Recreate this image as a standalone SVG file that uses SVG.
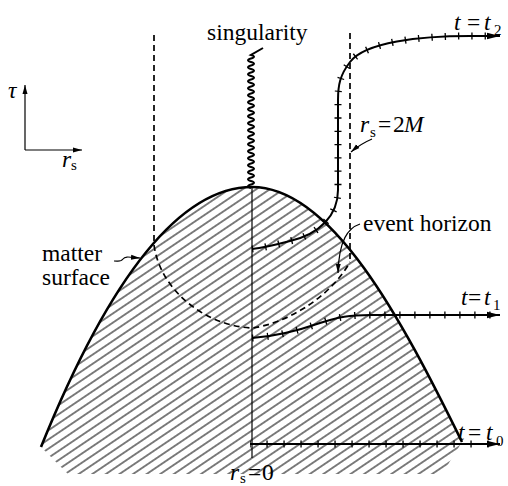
<svg xmlns="http://www.w3.org/2000/svg" width="508" height="486" viewBox="0 0 508 486">
<defs>
<style>
.lbl{font-family:"Liberation Serif","Times New Roman",serif;font-size:23.5px;fill:#000}
.it{font-style:italic}
.sub{font-size:15px;font-style:normal}
.thick{fill:none;stroke:#000;stroke-width:2.6;stroke-linejoin:round}
.curve{fill:none;stroke:#000;stroke-width:2}
.tk{fill:none;stroke:#000;stroke-width:7}
.dash{fill:none;stroke:#000;stroke-width:1.7;stroke-dasharray:6 4}
.thin{fill:none;stroke:#000;stroke-width:1.2}
</style>
<marker id="arr" markerUnits="userSpaceOnUse" markerWidth="14" markerHeight="8" refX="13" refY="4" orient="auto"><path d="M0,0.8 L13,4 L0,7.2 Z" fill="#000"/></marker>
<marker id="sarr" markerUnits="userSpaceOnUse" markerWidth="10" markerHeight="6" refX="9" refY="3" orient="auto"><path d="M0,0.5 L9,3 L0,5.5 Z" fill="#000"/></marker>
<pattern id="hatch" patternUnits="userSpaceOnUse" width="20" height="7.6" patternTransform="rotate(-34)"><line x1="-1" y1="3.8" x2="21" y2="3.8" stroke="#000" stroke-width="1"/></pattern>
</defs>
<rect width="508" height="486" fill="#fff"/>

<g id="matter">
<path d="M41,447 Q146,187 252,187 C332,187 402,320 462,442 L442,474 L68,474 Z" fill="url(#hatch)"/>
<path class="thick" d="M41,447 Q146,187 252,187 C332,187 402,320 462,442"/>
<path class="thin" d="M252,187 V458"/>
</g>

<g id="singularity">
<path fill="none" stroke="#000" stroke-width="2" d="M251,188 c-4,-1 -4,-2.5 0,-3.5 c4,-1 4,-2.5 0,-3.5 c-4,-1 -4,-2.5 0,-3.5 c4,-1 4,-2.5 0,-3.5 c-4,-1 -4,-2.5 0,-3.5 c4,-1 4,-2.5 0,-3.5 c-4,-1 -4,-2.5 0,-3.5 c4,-1 4,-2.5 0,-3.5 c-4,-1 -4,-2.5 0,-3.5 c4,-1 4,-2.5 0,-3.5 c-4,-1 -4,-2.5 0,-3.5 c4,-1 4,-2.5 0,-3.5 c-4,-1 -4,-2.5 0,-3.5 c4,-1 4,-2.5 0,-3.5 c-4,-1 -4,-2.5 0,-3.5 c4,-1 4,-2.5 0,-3.5 c-4,-1 -4,-2.5 0,-3.5 c4,-1 4,-2.5 0,-3.5 c-4,-1 -4,-2.5 0,-3.5 c4,-1 4,-2.5 0,-3.5 c-4,-1 -4,-2.5 0,-3.5 c4,-1 4,-2.5 0,-3.5 c-4,-1 -4,-2.5 0,-3.5 c4,-1 4,-2.5 0,-3.5 c-4,-1 -4,-2.5 0,-3.5 c4,-1 4,-2.5 0,-3.5 c-4,-1 -4,-2.5 0,-3.5 c4,-1 4,-2.5 0,-3.5 c-4,-1 -4,-2.5 0,-3.5 c4,-1 4,-2.5 0,-3.5 c-4,-1 -4,-2.5 0,-3.5 c4,-1 4,-2.5 0,-3.5 c-4,-1 -4,-2.5 0,-3.5 c4,-1 4,-2.5 0,-3.5 c-4,-1 -4,-2.5 0,-3.5 c4,-1 4,-2.5 0,-3.5 c-4,-1 -4,-2.5 0,-3.5 c4,-1 4,-2.5 0,-3.5 l12,-7"/>
<text class="lbl" x="207" y="40">singularity</text>
</g>

<g id="horizon">
<path class="dash" d="M154,35 V245"/>
<path class="dash" d="M350,33 V262"/>
<path class="dash" d="M154,245 C160,290 205,326 252,328 C285,324 330,298 350,262"/>
</g>

<g id="t2">
<path class="curve" marker-end="url(#arr)" d="M252,249 C262,248 275,245 290,241 C320,234 338,215 338,190 L338,100 C338,85 340,75 350,62 C365,42 420,36 470,36 L500,36"/>
<path class="tk" stroke-dasharray="1.3 12" d="M252,249 C262,248 275,245 290,241 C320,234 338,215 338,190 L338,100 C338,85 340,75 350,62 C365,42 420,36 470,36 L494,36"/>
<text class="lbl" y="30"><tspan x="454" class="it">t</tspan><tspan x="467">=</tspan><tspan x="484" class="it">t</tspan><tspan x="494" dy="5" class="sub">2</tspan></text>
</g>

<g id="t1">
<path class="curve" marker-end="url(#arr)" d="M252,338 C280,336 300,330 320,323 C338,317 350,315 370,315 L500,315"/>
<path class="tk" stroke-dasharray="1.3 13.7" d="M252,338 C280,336 300,330 320,323 C338,317 350,315 370,315 L492,315"/>
<text class="lbl" y="305"><tspan x="461" class="it">t</tspan><tspan x="468">=</tspan><tspan x="484" class="it">t</tspan><tspan x="493" dy="5" class="sub">1</tspan></text>
</g>

<g id="t0">
<path class="curve" marker-end="url(#arr)" d="M250,444 L500,444"/>
<path class="tk" stroke-dasharray="1.3 15.7" stroke-dashoffset="0.6" d="M250,444 L490,444"/>
<text class="lbl" y="440"><tspan x="458" class="it">t</tspan><tspan x="468">=</tspan><tspan x="486" class="it">t</tspan><tspan x="496" dy="6" class="sub">0</tspan></text>
</g>

<g id="legend-axes">
<path class="thin" marker-end="url(#sarr)" d="M25,150 V85"/>
<path class="thin" marker-end="url(#sarr)" d="M25,150 H82"/>
<text class="lbl it" x="8" y="98" font-size="22">τ</text>
<text class="lbl" y="167"><tspan x="62" class="it">r</tspan><tspan x="71" dy="3" class="sub">s</tspan></text>
</g>

<g id="connectors">
<path class="thin" marker-end="url(#sarr)" d="M114,261 C119,261 121,262 123,259 C125,256 129,257 140,258"/>
<path class="thin" marker-end="url(#sarr)" d="M372,139 C365,142 358,146 351,152"/>
<path class="thin" marker-end="url(#sarr)" d="M360,224 C348,228 339,240 338,273"/>
</g>

<g id="labels">
<text class="lbl" x="42" y="261">matter</text>
<text class="lbl" x="42" y="285">surface</text>
<text class="lbl" x="363" y="231">event horizon</text>
<text class="lbl" y="132"><tspan x="360" class="it">r</tspan><tspan x="370" dy="5" class="sub">s</tspan><tspan x="378" dy="-5">=</tspan><tspan x="393">2</tspan><tspan x="404" class="it">M</tspan></text>
<text class="lbl" y="480"><tspan x="230" class="it">r</tspan><tspan x="240" dy="3" class="sub">s</tspan><tspan x="248" dy="-3">=</tspan><tspan x="262">0</tspan></text>
</g>
</svg>
